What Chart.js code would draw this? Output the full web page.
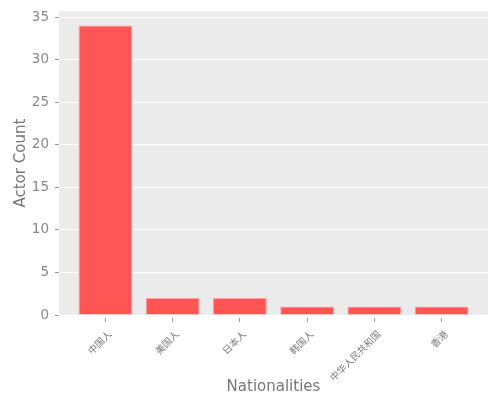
<!DOCTYPE html>
<html><head><meta charset="utf-8">
<script src="https://cdn.jsdelivr.net/npm/chart.js@4"></script>
<style>html,body{margin:0;padding:0;background:#fff}#w{width:500px;height:400px}</style>
</head><body><div id="w"><canvas id="c"></canvas></div>
<script>
const categories = ["中国人", "美国人", "日本人", "韩国人", "中华人民共和国", "香港"];
const actorCounts = [34, 2, 2, 1, 1, 1];
const yTicks = [0, 5, 10, 15, 20, 25, 30, 35];

const bgPlugin = {
  id: 'bg',
  beforeDraw(chart) {
    const {ctx, chartArea: a} = chart;
    ctx.save();
    ctx.fillStyle = '#EBEBEB';
    ctx.fillRect(a.left, a.top, a.right - a.left, a.bottom - a.top);
    ctx.restore();
  },
  afterDraw(chart) {
    // rotated category labels, anchored at their right end (matplotlib-style)
    const {ctx, scales: {x}} = chart;
    ctx.save();
    ctx.fillStyle = '#777';
    ctx.font = '9.5px "DejaVu Sans", "Noto Sans CJK SC", sans-serif';
    ctx.textAlign = 'right';
    ctx.textBaseline = 'middle';
    x.ticks.forEach((t) => {
      const px = x.getPixelForValue(t.value);
      ctx.save();
      ctx.translate(px + 5, x.top + 18);
      ctx.rotate(-Math.PI / 4);
      ctx.fillText(categories[t.value], 0, 0);
      ctx.restore();
    });
    ctx.restore();
  }
};

new Chart(document.getElementById('c'), {
  type: 'bar',
  data: {
    datasets: [{
      data: categories.map((c, i) => ({x: i, y: actorCounts[i]})),
      backgroundColor: '#FF5555',
      borderColor: '#FFA0A0',
      borderWidth: 1,
      categoryPercentage: 0.8,
      barPercentage: 1.0
    }]
  },
  options: {
    responsive: true,
    maintainAspectRatio: false,
    animation: false,
    devicePixelRatio: 1,
    layout: {padding: {top: 10, right: 12, left: 0, bottom: 0}},
    plugins: {legend: {display: false}, tooltip: {enabled: false}},
    scales: {
      x: {
        type: 'linear',
        offset: false,
        min: -0.69, max: 5.69,
        afterBuildTicks(s) { s.ticks = categories.map((c, i) => ({value: i})); },
        afterFit(s) { s.height = 85; },
        ticks: {
          callback: v => categories[v],
          autoSkip: false,
          maxRotation: 45, minRotation: 45,
          color: 'rgba(0,0,0,0)',
          font: {family: 'DejaVu Sans', size: 11},
          padding: 3
        },
        grid: {display: true, offset: false, drawOnChartArea: false, tickLength: 7,
          tickColor: '#999', tickBorderDash: [0, 3, 4, 100]},
        border: {display: false},
        title: {display: true, text: 'Nationalities', color: '#777',
          font: {family: 'DejaVu Sans', size: 15}, padding: {top: 0, bottom: 4}}
      },
      y: {
        min: 0, max: 35.7,
        afterBuildTicks(s) { s.ticks = yTicks.map(v => ({value: v})); },
        afterFit(s) { s.width = 59; },
        ticks: {color: '#888', font: {family: 'DejaVu Sans', size: 13.5}, padding: 3},
        grid: {color: '#FFFFFF', lineWidth: 1, tickLength: 7, tickColor: '#999',
          tickBorderDash: [0, 3, 4, 100]},
        border: {display: false},
        title: {display: true, text: 'Actor Count', color: '#777',
          font: {family: 'DejaVu Sans', size: 15}, padding: {top: 12, bottom: 0}}
      }
    }
  },
  plugins: [bgPlugin]
});
</script></body></html>
